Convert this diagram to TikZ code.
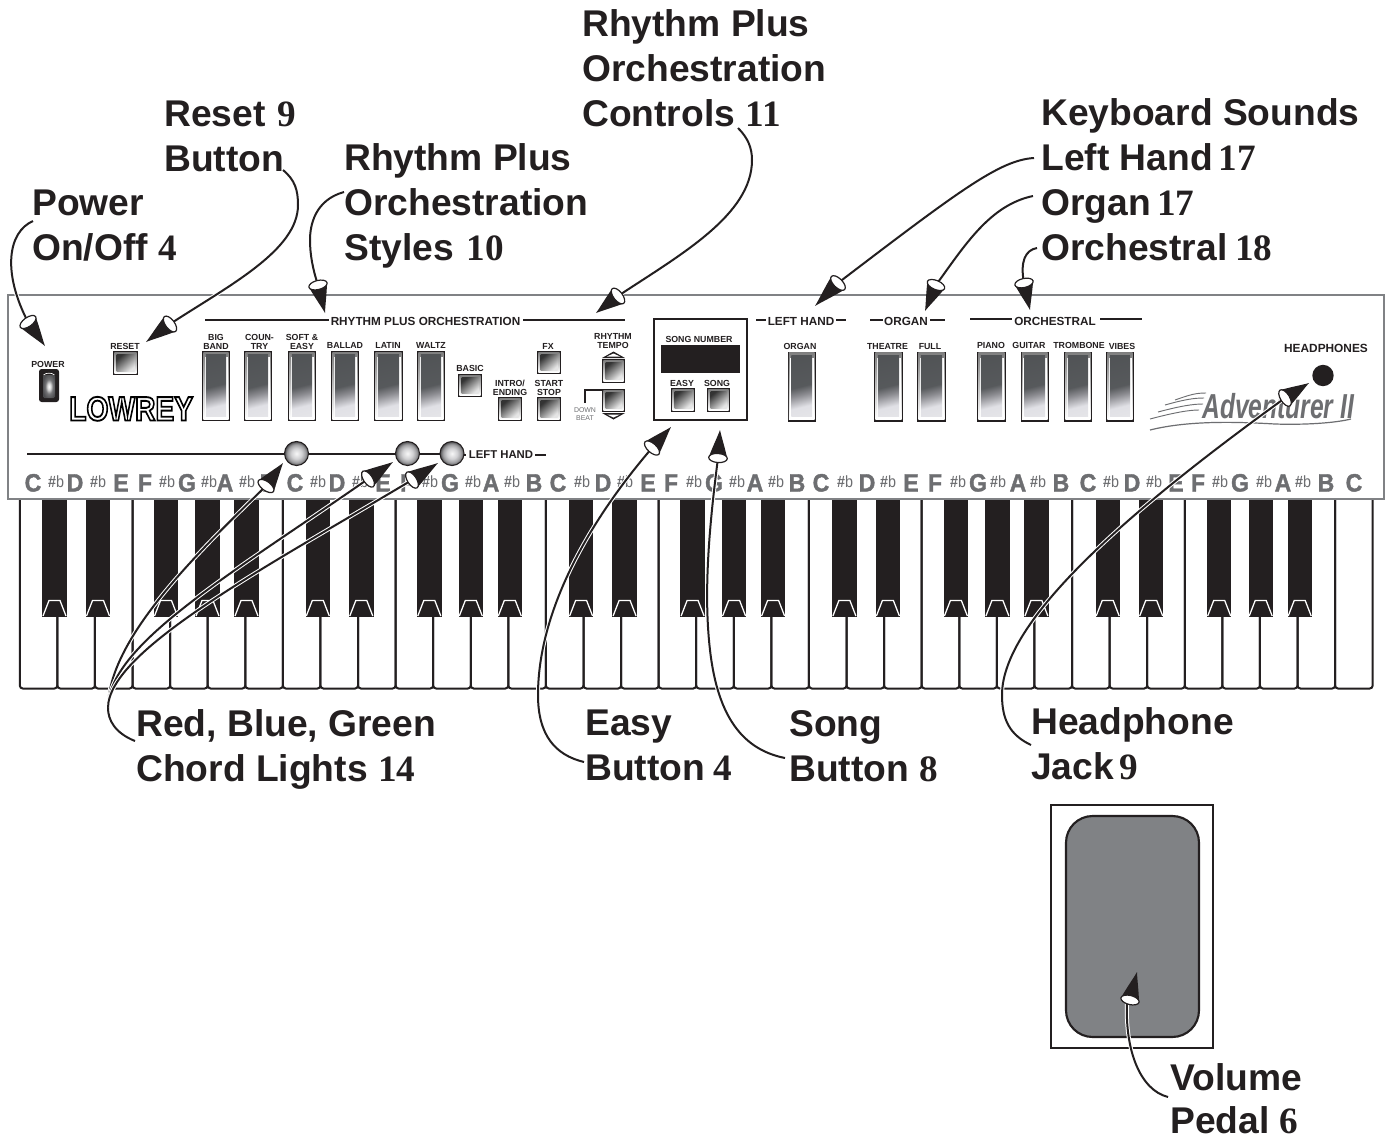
\documentclass[tikz,border=0pt]{standalone}
\usepackage{fontspec}
\usepackage{graphicx}
\setmainfont{Liberation Sans}
\newfontfamily\numf{Liberation Serif}
\usetikzlibrary{calc}
\definecolor{ink}{HTML}{231F20}
\definecolor{panelgray}{HTML}{808285}
\definecolor{lettergray}{HTML}{6D6E71}
\definecolor{pedalgray}{HTML}{808285}
\pgfdeclareverticalshading{tabface}{100bp}{rgb(0bp)=(.93,.93,.93);rgb(31bp)=(.88,.88,.9);rgb(42bp)=(.55,.55,.57);rgb(50bp)=(.34,.35,.36);rgb(100bp)=(.3,.31,.32)}
\pgfdeclareradialshading{lampface}{\pgfpointorigin}{rgb(0bp)=(.97,.97,.97);rgb(11bp)=(.82,.82,.83);rgb(19bp)=(.62,.62,.63);rgb(25bp)=(.3,.3,.31);rgb(50bp)=(.3,.3,.31)}
\pgfdeclareradialshading{switchface}{\pgfpointorigin}{rgb(0bp)=(1,1,1);rgb(7bp)=(.85,.85,.85);rgb(16bp)=(.45,.45,.46);rgb(28bp)=(.3,.3,.31);rgb(50bp)=(.3,.3,.31)}
\newcommand\Nb[1]{{\numf\bfseries #1}}
\newcommand\fb{\scalebox{.88}[1]{\textbf{\#}b}}
\newcommand\Lt[1]{\special{pdf:code 2 Tr .3 w .427 .431 .443 RG}\scalebox{.92}[1]{#1}\special{pdf:code 0 Tr}}
\tikzset{
  bigtext/.style={font=\fontsize{27.9}{33.75}\selectfont\bfseries,anchor=base west,align=left,inner sep=0pt,text=ink},
  headtext/.style={font=\fontsize{8.8}{9}\selectfont\bfseries,anchor=base,inner sep=0pt,text=ink},
  smalltext/.style={font=\fontsize{6.6}{6.4}\selectfont\bfseries,anchor=base,align=center,inner sep=0pt,text=ink},
  letterbig/.style={font=\fontsize{18.8}{20}\selectfont\bfseries,anchor=base,inner sep=0pt,text=lettergray},
  lettersmall/.style={font=\fontsize{12.2}{13}\selectfont,anchor=base,inner sep=0pt,text=lettergray},
  rule/.style={ink,line width=1.5pt},
  leader/.style={ink,line width=1.5pt,preaction={draw,white,line width=3pt}},
  whitekey/.style={ink,line width=1.5pt,rounded corners=2.2pt},
}
% tab switch: x1 y1 x2 y2
\newcommand\tabkey[4]{%
  \path[fill=ink] (#1,#2) rectangle (#3,#4);
  \path[top color=black!50,bottom color=white] ({#1+1.4},{#2+1.4}) rectangle ({#3-1.4},{#4-2});
  \path[fill=white] ({#1+2.6},{#2+6}) rectangle ({#3-2.4},{#4-2});
  \path[shading=tabface,shading angle=14] ({#1+3.8},{#2+3.8}) rectangle ({#3-3.8},{#4-4.6});
}
% square button: x1 y1 x2 y2
\newcommand\sqbutton[4]{%
  \path[fill=ink] (#1,#2) rectangle (#3,#4);
  \path[top color=black!50,bottom color=white] ({#1+1.4},{#2+1.4}) rectangle ({#3-1.4},{#4-2});
  \path[top color=black!80,bottom color=black!10,shading angle=40] ({#1+3.6},{#2+3.4}) rectangle ({#3-3.4},{#4-4});
}
\newcommand\light[2]{%
  \path[draw=ink,line width=.8pt,shading=lampface] (#1,#2) circle [radius=9pt];
}
% cone head from base coordinate #1 to tip coordinate #2
\newcommand\conehead[2]{%
  \pgfpointdiff{\pgfpointanchor{#1}{center}}{\pgfpointanchor{#2}{center}}%
  \pgfgetlastxy\hdx\hdy
  \pgfmathsetmacro\hL{veclen(\hdx,\hdy)}%
  \pgfmathsetmacro\hA{atan2(\hdy,\hdx)}%
  \begin{scope}[shift={(#1)},rotate=\hA,x=1pt,y=1pt]
    \fill[ink] (0,7) .. controls ({.45*\hL},4.2) and ({.75*\hL},1.5) .. (\hL,0)
      .. controls ({.75*\hL},-1.5) and ({.45*\hL},-4.2) .. (0,-7) -- cycle;
    \draw[ink,fill=white,line width=.9pt] (0,0) ellipse [x radius=3.4,y radius=7];
  \end{scope}%
}
\begin{document}
\begin{tikzpicture}[x=.75pt,y=-.75pt]
\useasboundingbox (0,0) rectangle (1390,1140);
\fill[white] (0,0) rectangle (1390,1140);

% keyboard
\foreach \k in {0,...,35}{
  \pgfmathsetmacro\xa{19.8+\k*37.58}
  \pgfmathsetmacro\xb{19.8+(\k+1)*37.58}
  \pgfmathtruncatemacro\ma{mod(\k,7)}
  \pgfmathtruncatemacro\mb{mod(\k+1,7)}
  \pgfmathsetmacro\ya{(\ma==0||\ma==3)?500:610}
  \pgfmathsetmacro\yb{(\mb==0||\mb==3||\k==35)?500:610}
  \draw[whitekey] (\xa,\ya) -- (\xa,688.5) -- (\xb,688.5) -- (\xb,\yb);
}
\foreach \o in {0,...,4}{
  \foreach \c in {54.5,98,166,207.5,246.5}{
    \pgfmathsetmacro\xc{\c+\o*263.3}
    \fill[ink] ({\xc-12.2},497) rectangle ({\xc+12.2},616.5);
    \draw[white,line width=.95pt] ({\xc-11.5},616) -- ({\xc-5.5},600.5) -- ({\xc+5.5},600.5) -- ({\xc+11.5},616);
  }
}

% panel
\draw[panelgray,line width=2pt,fill=white] (8,295) rectangle (1384,499);

% header rules
\draw[rule] (205,320) -- (329,320);
\draw[rule] (523,319.5) -- (625,319.5);
\draw[rule] (756,320) -- (766,320);
\draw[rule] (836,320) -- (846,320);
\draw[rule] (870,320) -- (883,320);
\draw[rule] (930,320) -- (945,320);
\draw[rule] (970,319) -- (1012,319);
\draw[rule] (1100,319) -- (1142,319);
\node[headtext] (hRhythm) at (425.5,325) {RHYTHM PLUS ORCHESTRATION};
\node[headtext] (hLeft) at (801,325) {LEFT HAND};
\node[headtext] (hOrgan) at (906,325) {ORGAN};
\node[headtext] (hOrch) at (1055,325) {ORCHESTRAL};

% tabs
\foreach \a/\b in {202/230,244/272,288/316,331/359,374/403,417/445}{
  \tabkey{\a}{351}{\b}{421}
}
\foreach \a/\b in {787.5/816,874/903,917/946,977/1006,1020.5/1049,1064/1092,1106/1134}{
  \tabkey{\a}{351.5}{\b}{421.5}
}
% buttons
\sqbutton{113}{351}{138}{375}
\sqbutton{458}{374}{482}{397}
\sqbutton{537}{351}{561}{374}
\sqbutton{498}{397}{522}{421}
\sqbutton{537}{397}{561}{421}
\sqbutton{602}{359}{625}{383}
\sqbutton{602}{389}{625}{412}
\sqbutton{671}{388}{695}{412}
\sqbutton{707}{388}{730}{412}

% tempo arrows
\fill[ink] (602,358) -- (613.5,351.5) -- (625,358) -- cycle;
\fill[white] (607,356.5) -- (613.5,353.5) -- (620,356.5) -- cycle;
\fill[ink] (602,413) -- (613.5,419.5) -- (625,413) -- cycle;
\fill[white] (607,414.5) -- (613.5,417.5) -- (620,414.5) -- cycle;
\draw[ink,line width=1pt] (585,403) -- (585,390) -- (602,390);

% song box
\draw[ink,line width=2pt] (654,319) rectangle (747,420);
\fill[ink] (661,345) rectangle (740,373);

% panel small labels
\node[smalltext] (lPower) at (48,367) {POWER};
\node[smalltext] (lReset) at (125,349) {RESET};
\node[smalltext] (lBig) at (216,349.5) {BIG\\BAND};
\node[smalltext] (lCountry) at (259.5,349) {COUN-\\TRY};
\node[smalltext] (lSoft) at (302,349.5) {SOFT \&\\EASY};
\node[smalltext] (lBallad) at (345,348.5) {BALLAD};
\node[smalltext] (lLatin) at (388,348) {LATIN};
\node[smalltext] (lWaltz) at (431,348) {WALTZ};
\node[smalltext] (lBasic) at (470,371) {BASIC};
\node[smalltext] (lFx) at (548,349) {FX};
\node[smalltext] (lIntro) at (510,395) {INTRO/\\ENDING};
\node[smalltext] (lStart) at (549,395) {START\\STOP};
\node[smalltext] (lTempo) at (613,348) {RHYTHM\\TEMPO};
\node[font=\fontsize{5.2}{5.6}\selectfont,anchor=base,align=center,inner sep=0pt,text=lettergray] (lDown) at (585,420) {DOWN\\BEAT};
\node[smalltext] (lSongNo) at (699,342) {SONG NUMBER};
\node[smalltext] (lEasy) at (682,386) {EASY};
\node[smalltext] (lSong) at (717,386) {SONG};
\node[smalltext] (lOrganTab) at (800,349) {ORGAN};
\node[smalltext] (lTheatre) at (887.5,349) {THEATRE};
\node[smalltext] (lFull) at (930,349) {FULL};
\node[smalltext] (lPiano) at (991,348) {PIANO};
\node[smalltext] (lGuitar) at (1029,348) {GUITAR};
\node[smalltext] (lTrombone) at (1079,348) {TROMBONE};
\node[smalltext] (lVibes) at (1122,349) {VIBES};
\node[headtext,font=\fontsize{8.9}{9}\selectfont\bfseries] (lPhones) at (1326,352) {HEADPHONES};

% headphone jack
\fill[ink] (1323,375.5) circle [radius=8pt];

% power switch
\path[fill=ink,rounded corners=2pt] (39,369) rectangle (59,402);
\path[shading=switchface,rounded corners=1pt] (43,375) rectangle (55,398);
\draw[white,line width=.5pt] (43.5,375) .. controls (46,372.5) and (52,372.5) .. (54.5,375);

% logos
\node[anchor=base west,inner sep=0pt,font=\fontsize{25.5}{26}\selectfont\bfseries,text=white] (logo) at (69,420.5)
  {\special{pdf:code 2 Tr 1.4 w 0 0 0 RG}\scalebox{.83}[1]{LOWREY}\special{pdf:code 0 Tr}};
\foreach \xa/\ya/\xb/\yb in {1175/400/1206/393,1165/405/1204/398,1158/412/1203/404,1150/419/1199/410}{
  \draw[lettergray,line width=.7pt] (\xa,\ya) .. controls ({(\xa+\xb)/2},{(\ya+\yb)/2-2}) and ({\xb-10},\yb) .. (\xb,\yb);
}
\draw[lettergray,line width=.9pt] (1150,430) .. controls (1190,420) and (1240,422) .. (1275,424) .. controls (1305,425) and (1335,423) .. (1351,419);
\node[anchor=base west,inner sep=0pt,font=\fontsize{26}{26}\selectfont\itshape\bfseries,text=lettergray] (adv) at (1202,418)
  {\scalebox{.71}[1]{Adventurer II}};

% chord light rail
\draw[rule] (27,453.5) -- (440,453.5);
\draw[rule] (462,455) -- (466,455);
\draw[rule] (535,455) -- (546,455);
\node[headtext,font=\fontsize{8.5}{9}\selectfont\bfseries] (lLeft2) at (501,458.5) {LEFT HAND};
\light{296.5}{453.5}
\light{407.5}{453.5}
\light{452}{453.5}

% note letters
\foreach \x/\t [count=\i] in {33/C,75/D,121/E,145/F,187/G,225/A,268/B,295/C,337/D,383/E,407/F,450/G,491/A,534/B,558/C,603/D,648/E,671/F,714/G,755/A,797/B,821/C,867/D,911/E,935/F,978/G,1018/A,1061/B,1088/C,1132/D,1176/E,1198/F,1240/G,1283/A,1326/B,1354/C}{
  \node[letterbig] (ln\i) at (\x,491.5) {\Lt{\t}};
}
\foreach \x [count=\i] in {56,98,167,209,247,318,360,430,473,512,582,625,694,737,776,845,888,958,998,1038,1111,1154,1220,1264,1303}{
  \node[lettersmall] (ls\i) at (\x,487.5) {\fb};
}

% pedal
\draw[ink,line width=1.6pt] (1051,805) rectangle (1213,1048);
\draw[ink,line width=1.6pt,fill=pedalgray,rounded corners=20pt] (1066,816) rectangle (1199,1037);

% callout labels
\node[bigtext] (tPower) at (32,260) {Power\\On/Off \Nb{4}};
\node[bigtext] (tReset) at (164,171) {Reset\kern1.5pt{} \Nb{9}\\Button};
\node[bigtext] (tStyles) at (344,260) {Rhythm Plus\\Orchestration\\Styles\kern2pt{} \Nb{10}};
\node[bigtext] (tControls) at (582,126) {Rhythm Plus\\Orchestration\\Controls \Nb{11}};
\node[bigtext] (tSounds) at (1041,260) {Keyboard Sounds\\Left Hand\kern-3.5pt{} \Nb{17}\\Organ\kern-3pt{} \Nb{17}\\Orchestral\kern-2pt{} \Nb{18}};
\node[bigtext] (tChord) at (136,781) {Red, Blue, Green\\Chord Lights \Nb{14}};
\node[bigtext] (tEasy) at (585,780) {Easy\\Button\kern-1.5pt{} \Nb{4}};
\node[bigtext] (tSong) at (789,781) {Song\\Button \Nb{8}};
\node[bigtext] (tJack) at (1031,779) {Headphone\\Jack\kern-3.5pt{} \Nb{9}};
\node[bigtext] (tPedal) at (1170,1133) {Volume\\[-1.5pt]Pedal \Nb{6}};

% connector ends
\coordinate (sPower) at (33,221);   \coordinate (bPower) at (28,322);   \coordinate (hPower) at (45,346);
\coordinate (sReset) at (283,170);  \coordinate (bReset) at (170,324);  \coordinate (hReset) at (146,342);
\coordinate (sStyles) at (344,192); \coordinate (bStyles) at (318,285); \coordinate (hStyles) at (325,313);
\coordinate (sCtrl) at (738,128);   \coordinate (bCtrl) at (618,296);   \coordinate (hCtrl) at (596,313);
\coordinate (sLH) at (1034,158);    \coordinate (bLH) at (838,283);     \coordinate (hLH) at (815,306);
\coordinate (sOrg) at (1033,196);   \coordinate (bOrg) at (936,285);    \coordinate (hOrg) at (925,311);
\coordinate (sOrch) at (1037,248);  \coordinate (bOrch) at (1024,283);  \coordinate (hOrch2) at (1030,310);
\coordinate (sJack) at (1031,745);  \coordinate (bJack) at (1285,398);  \coordinate (hJack) at (1309,383);
\coordinate (sChord) at (135,741);  \coordinate (mChord) at (108,708);
\coordinate (bR) at (266,486);      \coordinate (hR) at (283,463);
\coordinate (bB) at (368,479);      \coordinate (hB) at (393,462);
\coordinate (bG) at (412,480);      \coordinate (hG) at (438,463);
\coordinate (sEasy) at (584,762);   \coordinate (bEasy) at (652,448);   \coordinate (hEasy) at (671,427);
\coordinate (sSong) at (785,758);   \coordinate (bSong) at (718,458);   \coordinate (hSong) at (720,430);
\coordinate (sPed) at (1168,1097);  \coordinate (bPed) at (1130,1000);  \coordinate (hPed) at (1137,972);

% connectors
\draw[leader] (sPower) .. controls (8,232) and (2,272) .. (bPower);
\draw[leader] (sReset) .. controls (295,180) and (298,190) .. (298,205) .. controls (298,250) and (230,285) .. (bReset);
\draw[leader] (sStyles) .. controls (315,200) and (310,225) .. (310,240) .. controls (310,255) and (313,270) .. (bStyles);
\draw[leader] (sCtrl) .. controls (748,138) and (752,148) .. (752,160) .. controls (752,215) and (680,255) .. (bCtrl);
\draw[leader] (sLH) .. controls (1000,160) and (960,190) .. (bLH);
\draw[leader] (sOrg) .. controls (990,205) and (965,245) .. (bOrg);
\draw[leader] (sOrch) .. controls (1025,250) and (1020,262) .. (bOrch);
\draw[leader] (sJack) .. controls (1010,735) and (1002,720) .. (1002,695) .. controls (1002,620) and (1130,510) .. (bJack);
\draw[leader] (mChord) .. controls (108,640) and (195,555) .. (bR);
\draw[leader] (mChord) .. controls (108,645) and (230,575) .. (bB);
\draw[leader] (mChord) .. controls (108,650) and (270,565) .. (bG);
\draw[leader] (sChord) .. controls (115,733) and (108,720) .. (mChord);
\draw[leader] (sEasy) .. controls (555,755) and (538,735) .. (538,695) .. controls (538,610) and (590,520) .. (bEasy);
\draw[leader] (sSong) .. controls (745,750) and (718,720) .. (710,650) .. controls (703,590) and (710,520) .. (bSong);
\draw[leader] (sPed) .. controls (1140,1090) and (1125,1050) .. (1127,1003);

% cone heads
\conehead{bPower}{hPower}
\conehead{bReset}{hReset}
\conehead{bStyles}{hStyles}
\conehead{bCtrl}{hCtrl}
\conehead{bLH}{hLH}
\conehead{bOrg}{hOrg}
\conehead{bOrch}{hOrch2}
\conehead{bJack}{hJack}
\conehead{bR}{hR}
\conehead{bB}{hB}
\conehead{bG}{hG}
\conehead{bEasy}{hEasy}
\conehead{bSong}{hSong}
\conehead{bPed}{hPed}
\end{tikzpicture}
\end{document}
